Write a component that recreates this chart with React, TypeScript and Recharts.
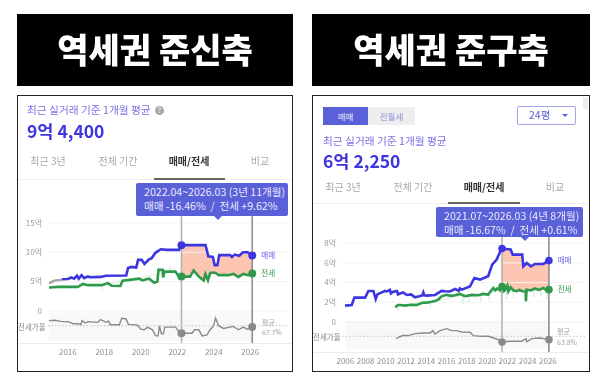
import { Area, ComposedChart, Line, ReferenceArea, ReferenceDot, ReferenceLine, XAxis, YAxis } from "recharts";

const FONT = '"Noto Sans CJK KR", "Noto Sans", sans-serif';
const BLUE = "#3d35e0";
const GREEN = "#2f9a4c";
const GREY = "#8a8a8a";

// 역세권 준신축
const leftTicks = [2016, 2018, 2020, 2022, 2024, 2026];
const leftEarlyYears = [2014.97, 2015.15, 2015.3, 2015.67];
const leftEarlySale = [4.7, 5.0, 5.2, 5.3];
const leftSaleYears = [2015.67, 2016.0, 2016.2, 2016.35, 2016.5, 2016.6, 2016.75, 2016.9, 2017.1, 2017.2, 2017.8, 2018.1, 2019.2, 2019.3, 2019.5, 2019.75, 2019.85, 2020.05, 2020.2, 2020.45, 2020.6, 2020.8, 2021.1, 2021.4, 2022.1, 2022.23, 2023.55, 2023.7, 2023.95, 2024.05, 2024.2, 2024.3, 2024.9, 2025.0, 2025.15, 2025.4, 2025.6, 2025.85, 2026.11];
const leftSale = [5.4, 5.45, 5.7, 5.5, 6.0, 5.5, 6.1, 5.6, 5.9, 5.75, 5.8, 6.0, 6.05, 7.3, 7.5, 7.4, 8.7, 8.7, 8.0, 8.8, 9.0, 9.9, 10.5, 10.4, 10.4, 11.2, 11.2, 9.3, 9.2, 7.8, 7.8, 9.5, 9.5, 9.2, 9.6, 9.4, 10.0, 10.0, 9.44];
const leftJeonseYears = [2014.97, 2015.5, 2016.55, 2016.83, 2017.1, 2017.85, 2018.2, 2018.4, 2018.88, 2019.0, 2019.4, 2019.9, 2020.1, 2020.3, 2020.46, 2020.73, 2020.91, 2020.97, 2021.2, 2021.22, 2021.31, 2021.9, 2022.09, 2022.23, 2022.7, 2022.9, 2023.18, 2023.45, 2023.54, 2023.68, 2023.81, 2024.08, 2024.27, 2024.81, 2025.08, 2025.35, 2025.62, 2025.9, 2026.11];
const leftJeonse = [4.0, 4.1, 4.1, 4.6, 4.4, 4.4, 4.75, 4.3, 4.25, 5.15, 5.3, 5.5, 5.2, 5.4, 5.5, 4.8, 5.0, 7.0, 7.0, 5.7, 6.7, 6.7, 5.85, 5.85, 5.85, 6.9, 5.85, 5.2, 6.3, 5.2, 6.5, 6.5, 6.1, 6.1, 6.3, 5.8, 6.3, 6.1, 6.4];
const leftGapYears = [2022.23, 2022.7, 2022.9, 2023.18, 2023.45, 2023.55, 2023.68, 2023.81, 2023.95, 2024.05, 2024.2, 2024.3, 2024.81, 2025.0, 2025.35, 2025.6, 2025.9, 2026.11];
const leftGapLow = [5.85, 5.85, 6.9, 5.85, 5.2, 6.3, 5.2, 6.5, 6.5, 6.5, 6.3, 6.1, 6.1, 6.2, 5.8, 6.3, 6.1, 6.4];
const leftGapHigh = [11.2, 11.2, 11.2, 11.2, 11.2, 11.2, 9.3, 9.3, 9.2, 7.8, 7.8, 9.5, 9.5, 9.2, 9.4, 10.0, 10.0, 9.44];
const leftRatioYears = [2014.97, 2015.29, 2015.66, 2016.02, 2016.29, 2016.56, 2016.71, 2016.78, 2016.96, 2017.11, 2017.65, 2017.79, 2018.1, 2018.23, 2018.32, 2018.83, 2018.95, 2019.19, 2019.32, 2019.82, 2020.0, 2020.19, 2020.37, 2020.64, 2020.82, 2020.95, 2021.02, 2021.13, 2021.24, 2021.31, 2021.91, 2022.14, 2022.22, 2022.81, 2022.94, 2023.18, 2023.36, 2023.63, 2023.77, 2023.99, 2024.1, 2024.26, 2024.53, 2025.08, 2025.35, 2025.62, 2025.84, 2026.11];
const leftRatio = [77.7, 78.4, 75.7, 75.7, 71.7, 71.7, 69.7, 77.7, 73, 75.7, 74.4, 79.7, 74.4, 77, 69.7, 69.7, 82.4, 81, 70.4, 69, 61, 59.7, 65, 59.7, 47.7, 47.7, 67.7, 51.7, 51.7, 65, 65, 53, 53, 53, 59.7, 59.7, 47.7, 49.7, 58.4, 67.7, 83, 67.7, 62.4, 66.4, 59.7, 65, 61, 65];
const leftSpikeYears = [2017.9, 2017.9, 2017.9, 2021.6, 2021.6, 2021.6];
const leftSpikes = [4.4, 3.6, 4.4, 6.7, 7.6, 6.7];

// 역세권 준구축
const rightTicks = [2006, 2008, 2010, 2012, 2014, 2016, 2018, 2020, 2022, 2024, 2026];
const rightSaleYears = [2005.97, 2006.63, 2006.9, 2007.95, 2008.28, 2008.77, 2009.0, 2009.17, 2009.92, 2010.1, 2010.4, 2010.5, 2010.74, 2011.1, 2011.2, 2011.4, 2011.7, 2012.06, 2012.5, 2012.88, 2013.3, 2013.6, 2013.7, 2013.8, 2014.03, 2014.86, 2015.5, 2015.84, 2016.33, 2016.83, 2017.2, 2017.3, 2017.5, 2018.3, 2018.74, 2019.3, 2020.1, 2020.5, 2020.94, 2021.43, 2022.32, 2022.52, 2023.47, 2023.57, 2023.9, 2024.33, 2024.72, 2025.55, 2026.1];
const rightSale = [1.66, 1.72, 2.47, 2.47, 3.15, 3.15, 2.33, 2.8, 3.15, 3.1, 3.25, 2.9, 3.08, 3.15, 2.8, 2.9, 3.0, 2.74, 2.8, 2.5, 2.6, 2.7, 3.0, 2.7, 2.67, 2.74, 3.15, 3.12, 3.1, 3.35, 3.15, 3.4, 3.28, 3.6, 4.47, 4.3, 4.64, 5.82, 6.33, 7.45, 7.35, 6.84, 6.84, 5.65, 5.99, 5.65, 5.89, 5.89, 6.23];
const rightJeonseYears = [2010.91, 2011.2, 2011.4, 2011.9, 2012.5, 2013.05, 2013.6, 2014.03, 2014.5, 2014.86, 2015.2, 2015.5, 2016.0, 2016.4, 2016.83, 2017.3, 2017.8, 2018.5, 2019.13, 2019.6, 2020.1, 2020.6, 2020.8, 2021.0, 2021.3, 2021.5, 2021.6, 2021.75, 2022.0, 2022.1, 2022.32, 2022.6, 2022.9, 2023.2, 2023.47, 2023.8, 2023.83, 2023.9, 2024.3, 2024.72, 2025.1, 2025.55, 2025.8, 2026.1];
const rightJeonse = [1.49, 1.72, 1.72, 1.66, 1.75, 1.72, 1.95, 1.96, 2.05, 2.13, 2.3, 2.6, 2.75, 2.65, 2.71, 2.85, 2.61, 2.75, 2.71, 2.85, 2.78, 3.45, 3.2, 3.4, 3.2, 3.79, 3.1, 3.18, 3.7, 3.1, 3.52, 3.2, 3.12, 3.25, 3.12, 3.1, 2.1, 3.28, 3.2, 3.4, 3.25, 3.45, 3.25, 3.28];
const rightGapYears = [2021.43, 2021.5, 2021.75, 2022.32, 2022.52, 2022.9, 2023.47, 2023.57, 2023.9, 2024.33, 2024.72, 2025.55, 2026.1];
const rightGapLow = [3.6, 3.79, 3.18, 3.52, 3.12, 3.12, 3.12, 3.12, 3.28, 3.28, 3.28, 3.45, 3.28];
const rightGapHigh = [7.45, 7.45, 7.35, 7.35, 6.84, 6.84, 6.84, 5.65, 5.99, 5.65, 5.89, 5.89, 6.23];
const rightRatioYears = [2011.01, 2011.24, 2011.73, 2012.22, 2012.88, 2013.7, 2014.36, 2014.63, 2014.86, 2015.35, 2016.01, 2016.5, 2017.0, 2017.49, 2018.31, 2018.64, 2019.46, 2020.12, 2020.94, 2021.47, 2022.26, 2023.41, 2023.84, 2023.9, 2024.4, 2025.22, 2026.11];
const rightRatio = [56.1, 60.9, 66.6, 65.6, 71.3, 73.3, 73.3, 79.9, 70.4, 79.9, 85.6, 79.9, 79.9, 76.1, 75.2, 65.6, 63.7, 63.7, 56.1, 47.6, 49.5, 49.5, 57.1, 47.6, 57.1, 59, 54.2];
const rightSpikeYears = [2011.2, 2011.2, 2011.2, 2014.4, 2014.4, 2014.4, 2017.6, 2017.6, 2017.6, 2018.2, 2018.2, 2018.2, 2019.4, 2019.4, 2019.4, 2020.2, 2020.2, 2020.2, 2021.4, 2021.4, 2021.4, 2021.9, 2021.9, 2021.9, 2022.6, 2022.6, 2022.6, 2024.6, 2024.6, 2024.6, 2025.3, 2025.3, 2025.3, 2025.9, 2025.9, 2025.9];
const rightSpikes = [1.7, 1.1, 1.7, 2.0, 1.4, 2.0, 2.7, 1.8, 2.7, 2.7, 2.0, 2.7, 2.7, 2.1, 2.7, 2.9, 2.3, 2.9, 3.4, 1.6, 3.4, 3.2, 2.3, 3.2, 3.1, 2.4, 3.1, 3.3, 2.5, 3.3, 3.3, 2.6, 3.3, 3.3, 2.3, 3.3];

const rows = (xs: number[], ys: number[]) => xs.map((x, i) => ({ x, y: ys[i] }));
const bandRows = (xs: number[], low: number[], high: number[]) => xs.map((x, i) => ({ x, range: [low[i], high[i]] }));

const text = (x: number, y: number, value: string, style: React.CSSProperties) => (
  <div style={{ position: "absolute", left: x, top: y, whiteSpace: "pre", lineHeight: 1, ...style }}>{value}</div>
);

const endLabel = (value: string, fill: string) => ({ value, position: "right" as const, offset: 5, fill, fontSize: 7.5 });

function PriceChart(p: any) {
  return (
    <div style={{ position: "absolute", left: p.left, top: p.top }}>
      <ComposedChart width={p.width} height={p.height} margin={{ top: 0, right: p.right, bottom: 0, left: 0 }}>
        <XAxis
          type="number"
          dataKey="x"
          domain={p.xDomain}
          ticks={p.xTicks}
          interval={0}
          tickLine={false}
          axisLine={false}
          tickSize={0}
          tickMargin={6}
          height={22}
          tick={{ fill: "#8f8f8f", fontSize: 8 }}
          allowDuplicatedCategory={false}
        />
        <YAxis
          yAxisId="price"
          type="number"
          width={p.axisWidth}
          domain={p.yDomain}
          ticks={p.yTicks}
          interval={0}
          tickLine={false}
          axisLine={false}
          tickSize={0}
          tickMargin={6}
          tickFormatter={(v: number) => (v === 0 ? "0" : `${v}억`)}
          tick={{ fill: "#9a9a9a", fontSize: 8 }}
        />
        <YAxis yAxisId="ratio" type="number" hide domain={p.ratioDomain} />
        <ReferenceArea yAxisId="ratio" x1={p.bandX[0]} x2={p.bandX[1]} y1={p.bandY[0]} y2={p.bandY[1]} fill="#f8f8f8" fillOpacity={1} stroke="none" />
        {p.yTicks.map((t: number) => (
          <ReferenceLine key={t} yAxisId="price" y={t} segment={[{ x: p.bandX[0] }, { x: p.bandX[1] }]} stroke="#f3f3f3" />
        ))}
        <ReferenceLine yAxisId="ratio" y={p.avg} stroke="#c4c4c4" strokeDasharray="1.5 2" segment={[{ x: p.bandX[0] }, { x: p.bandX[1] }]} />
        <Area yAxisId="price" data={p.gap} dataKey="range" stroke="none" fill="#fcc6b2" fillOpacity={1} isAnimationActive={false} dot={false} activeDot={false} />
        <Line yAxisId="price" data={p.spikes} dataKey="y" stroke="#d8eedc" strokeWidth={1} dot={false} isAnimationActive={false} />
        {p.early && <Line yAxisId="price" data={p.early} dataKey="y" stroke="#a8a8a8" strokeWidth={2.4} dot={false} isAnimationActive={false} />}
        <Line yAxisId="price" data={p.sale} dataKey="y" stroke={BLUE} strokeWidth={2.6} dot={false} isAnimationActive={false} />
        <Line yAxisId="price" data={p.jeonse} dataKey="y" stroke={GREEN} strokeWidth={2.6} dot={false} isAnimationActive={false} />
        <Line yAxisId="ratio" data={p.ratio} dataKey="y" stroke={GREY} strokeWidth={1.4} dot={false} isAnimationActive={false} />
        <ReferenceLine yAxisId="price" x={p.startX} stroke="#b4b4b4" strokeWidth={1.6} />
        <ReferenceLine yAxisId="price" x={p.endX} stroke="#8e8e8e" strokeWidth={1.6} />
        <ReferenceDot yAxisId="price" x={p.startX} y={p.startSale} r={p.dot} fill={BLUE} stroke="none" />
        <ReferenceDot yAxisId="price" x={p.startX} y={p.startJeonse} r={p.dot} fill={GREEN} stroke="none" />
        <ReferenceDot yAxisId="ratio" x={p.startX} y={p.startRatio} r={p.dot} fill={GREY} stroke="none" />
        <ReferenceDot yAxisId="price" x={p.endX} y={p.endSale} r={p.dot} fill={BLUE} stroke="none" label={endLabel("매매", "#6d66e6")} />
        <ReferenceDot yAxisId="price" x={p.endX} y={p.endJeonse} r={p.dot} fill={GREEN} stroke="none" label={endLabel("전세", GREEN)} />
        <ReferenceDot yAxisId="ratio" x={p.endX} y={p.endRatio} r={p.dot} fill={GREY} stroke="none" />
      </ComposedChart>
    </div>
  );
}

function Tabs({ x, y, centers, lineX }: { x: number; y: number; centers: number[]; lineX: number[] }) {
  const labels = ["최근 3년", "전체 기간", "매매/전세", "비교"];
  return (
    <>
      {labels.map((l, i) => (
        <div
          key={l}
          style={{
            position: "absolute",
            left: centers[i] - 40,
            width: 80,
            top: y - 6,
            textAlign: "center",
            lineHeight: 1,
            fontSize: 10,
            fontWeight: i === 2 ? 700 : 400,
            color: i === 2 ? "#333" : "#a8a8a8",
          }}
        >
          {l}
        </div>
      ))}
      <div style={{ position: "absolute", left: x, right: 0, width: lineX[2], top: lineX[3], height: 1, background: "#f0f0f0" }} />
      <div style={{ position: "absolute", left: lineX[0], width: lineX[1] - lineX[0], top: lineX[3] - 1, height: 2, background: "#666" }} />
    </>
  );
}

function Bubble({ left, top, width, height, caret, line1, line2 }: any) {
  return (
    <>
      <div style={{ position: "absolute", left, top, width, height, background: "#5a60d8", borderRadius: 2, color: "#e9eafb", fontSize: 10.6, lineHeight: "14px", paddingTop: 2, boxSizing: "border-box" }}>
        <div style={{ paddingLeft: 8, whiteSpace: "pre" }}>{line1}</div>
        <div style={{ paddingLeft: 8, whiteSpace: "pre" }}>{line2}</div>
      </div>
      <div style={{ position: "absolute", left: caret - 4, top: top + height, width: 0, height: 0, borderLeft: "4px solid transparent", borderRight: "4px solid transparent", borderTop: "4px solid #5a60d8" }} />
    </>
  );
}

function Title({ left, width, value }: { left: number; width: number; value: string }) {
  return (
    <div style={{ position: "absolute", left, top: 14, width, height: 72, background: "#000", color: "#fff", fontSize: 34, fontWeight: 900, textAlign: "center", lineHeight: "69px", filter: "blur(0.3px)" }}>
      {value}
    </div>
  );
}

const panel: React.CSSProperties = { position: "absolute", top: 95, height: 277, boxSizing: "border-box", border: "1.5px solid #222", background: "#fff" };

export default function App() {
  return (
    <div style={{ position: "absolute", left: 0, top: 0, width: 605, height: 388, background: "#fff", fontFamily: FONT, overflow: "hidden" }}>
      <Title left={17} width={276} value="역세권 준신축" />
      <Title left={312} width={278} value="역세권 준구축" />

      <div style={{ position: "absolute", inset: 0, filter: "blur(0.4px)" }}>
        <div style={{ ...panel, left: 17, width: 276 }} />
        <div style={{ ...panel, left: 312, width: 278 }} />

        {text(27, 105, "최근 실거래 기준 1개월 평균", { fontSize: 10.7, color: "#7a70e4" })}
        <div style={{ position: "absolute", left: 155, top: 106, width: 9, height: 9, borderRadius: 5, background: "#aaa", color: "#fff", fontSize: 7, lineHeight: "9px", textAlign: "center" }}>?</div>
        {text(27, 122, "9억 4,400", { fontSize: 17.5, fontWeight: 700, color: BLUE })}
        <Tabs x={18} y={162} centers={[48, 118, 189, 260]} lineX={[154, 225, 274, 179]} />

        <PriceChart
          left={18}
          top={214}
          width={274}
          height={151}
          axisWidth={30}
          right={4}
          xDomain={[2014.913, 2028.07]}
          xTicks={leftTicks}
          yDomain={[-5.44, 16.5]}
          yTicks={[0, 5, 10, 15]}
          ratioDomain={[33.7, 287.7]}
          bandX={[2014.97, 2026.11]}
          bandY={[37.7, 93.7]}
          avg={67.7}
          early={rows(leftEarlyYears, leftEarlySale)}
          sale={rows(leftSaleYears, leftSale)}
          jeonse={rows(leftJeonseYears, leftJeonse)}
          ratio={rows(leftRatioYears, leftRatio)}
          spikes={rows(leftSpikeYears, leftSpikes)}
          gap={bandRows(leftGapYears, leftGapLow, leftGapHigh)}
          startX={2022.23}
          endX={2026.11}
          startSale={11.2}
          startJeonse={5.85}
          startRatio={53}
          endSale={9.44}
          endJeonse={6.4}
          endRatio={65}
          dot={4}
        />
        <div style={{ position: "absolute", left: 18, width: 274, top: 343, height: 1, background: "#ececec" }} />
        {text(18, 323, "전세가율", { fontSize: 7.5, color: "#8a8a8a" })}
        {text(262, 319, "평균", { fontSize: 7, color: "#a5a5a5" })}
        {text(262, 329, "67.7%", { fontSize: 7, color: "#a5a5a5" })}
        <Bubble left={136} top={183} width={152} height={33} caret={218} line1="2022.04~2026.03 (3년 11개월)" line2="매매 -16.46%  /  전세 +9.62%" />

        <div style={{ position: "absolute", left: 323, top: 107, width: 45, height: 18, background: "#5a60d8", color: "#e9eafb", fontSize: 8.5, textAlign: "center", lineHeight: "18px" }}>매매</div>
        <div style={{ position: "absolute", left: 368, top: 107, width: 47, height: 18, background: "#eeeeee", color: "#8f8fd8", fontSize: 8.5, textAlign: "center", lineHeight: "18px" }}>전월세</div>
        <div style={{ position: "absolute", left: 517, top: 106, width: 59, height: 19, boxSizing: "border-box", border: "1.5px solid #a3a5ea", borderRadius: 2, color: "#5a60d8", fontSize: 10.5, lineHeight: "16px", paddingLeft: 11 }}>24평</div>
        <div style={{ position: "absolute", left: 562, top: 114, width: 0, height: 0, borderLeft: "3.5px solid transparent", borderRight: "3.5px solid transparent", borderTop: "3.5px solid #5a60d8" }} />
        <div style={{ position: "absolute", left: 583, top: 97, width: 5, height: 12, background: "#eeeeee" }} />
        {text(323, 136, "최근 실거래 기준 1개월 평균", { fontSize: 10.7, color: "#7a70e4" })}
        {text(323, 152, "6억 2,250", { fontSize: 17.5, fontWeight: 700, color: BLUE })}
        <Tabs x={313} y={188} centers={[343, 413, 484, 555]} lineX={[448, 520, 276, 203]} />

        <PriceChart
          left={313}
          top={208}
          width={276}
          height={166}
          axisWidth={29}
          right={2}
          xDomain={[2005.67, 2029.86]}
          xTicks={rightTicks}
          yDomain={[-3.05, 11.57]}
          yTicks={[0, 2, 4, 6, 8]}
          ratioDomain={[18.9, 430.4]}
          bandX={[2006, 2026.1]}
          bandY={[27.5, 107.5]}
          avg={63.8}
          sale={rows(rightSaleYears, rightSale)}
          jeonse={rows(rightJeonseYears, rightJeonse)}
          ratio={rows(rightRatioYears, rightRatio)}
          spikes={rows(rightSpikeYears, rightSpikes)}
          gap={bandRows(rightGapYears, rightGapLow, rightGapHigh)}
          startX={2021.47}
          endX={2026.1}
          startSale={7.45}
          startJeonse={3.6}
          startRatio={47.6}
          endSale={6.23}
          endJeonse={3.28}
          endRatio={54.2}
          dot={3.8}
        />
        <div style={{ position: "absolute", left: 313, width: 276, top: 352, height: 1, background: "#ececec" }} />
        {text(313, 333, "전세가율", { fontSize: 7.5, color: "#8a8a8a" })}
        {text(557, 328, "평균", { fontSize: 7, color: "#a5a5a5" })}
        {text(557, 339, "63.8%", { fontSize: 7, color: "#a5a5a5" })}
        <Bubble left={436} top={207} width={147} height={30} caret={525} line1="2021.07~2026.03 (4년 8개월)" line2="매매 -16.67%  /  전세 +0.61%" />
      </div>
    </div>
  );
}
